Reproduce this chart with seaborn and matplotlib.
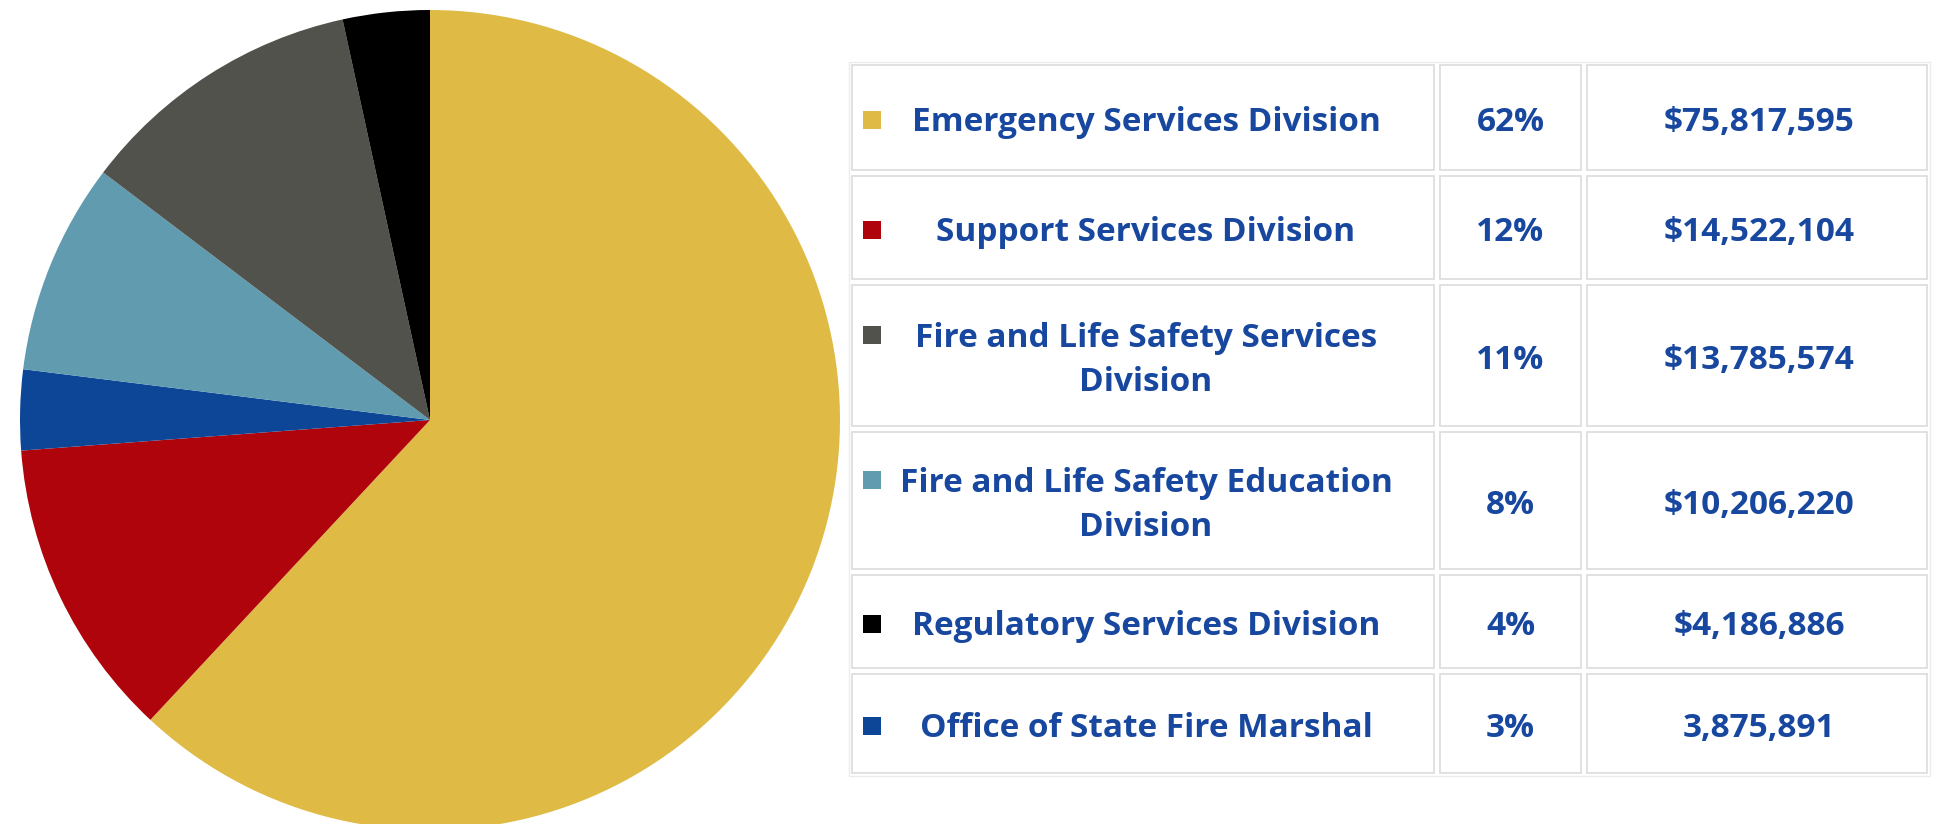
import matplotlib
matplotlib.use('Agg')
import matplotlib.pyplot as plt
import seaborn as sns
from matplotlib.patches import Rectangle

# pie order (clockwise from 12 o'clock)
divisions = ["Emergency Services Division", "Support Services Division",
             "Office of State Fire Marshal", "Fire and Life Safety Education Division",
             "Fire and Life Safety Services Division", "Regulatory Services Division"]
amounts = [75817595, 14522104, 3875891, 10206220, 13785574, 4186886]
colors = ["#DFBA45", "#AF040C", "#0D4696", "#619BB0", "#51524B", "#000000"]

# table order (top to bottom)
table_names = ["Emergency Services Division", "Support Services Division",
               "Fire and Life Safety Services\nDivision",
               "Fire and Life Safety Education\nDivision",
               "Regulatory Services Division", "Office of State Fire Marshal"]
table_keys = [0, 1, 4, 3, 5, 2]
pct_labels = ["62%", "12%", "11%", "8%", "4%", "3%"]
amount_labels = ["$75,817,595", "$14,522,104", "$13,785,574", "$10,206,220",
                 "$4,186,886", "3,875,891"]

sns.set_theme(style="white")
plt.rcParams['font.family'] = ['Open Sans', 'DejaVu Sans']

W, H = 1937, 824
fig = plt.figure(figsize=(W / 100, H / 100), dpi=100)

# pie
cx, cy, r = 430, 420, 410
ax = fig.add_axes([(cx - r) / W, (H - cy - r) / H, 2 * r / W, 2 * r / H])
ax.pie(amounts, colors=colors, startangle=90, counterclock=False,
       wedgeprops=dict(linewidth=0))
ax.set_xlim(-1, 1)
ax.set_ylim(-1, 1)
ax.set_aspect('equal')
ax.axis('off')

# table in pixel coordinates
tx = fig.add_axes([0, 0, 1, 1])
tx.set_xlim(0, W)
tx.set_ylim(H, 0)
tx.axis('off')

col_edges = [849, 1437, 1584, 1930]
row_edges = [62, 173, 282, 429, 572, 671, 776]
border = "#dcdcdc"
text_col = "#17479E"
gap = 3
fs = 24
dy = 5

tx.add_patch(Rectangle((col_edges[0], row_edges[0]), col_edges[-1] - col_edges[0],
                       row_edges[-1] - row_edges[0], fill=False, ec="#ececec", lw=1))
for i in range(len(row_edges) - 1):
    y0, y1 = row_edges[i], row_edges[i + 1]
    for j in range(len(col_edges) - 1):
        x0, x1 = col_edges[j], col_edges[j + 1]
        tx.add_patch(Rectangle((x0 + gap, y0 + gap), x1 - x0 - 2 * gap, y1 - y0 - 2 * gap,
                               fill=False, ec=border, lw=1.2))
    yc = (y0 + y1) / 2 + dy
    name = table_names[i]
    nlines = name.count("\n") + 1
    sq_y = yc - (23 if nlines == 2 else 0) - 3
    tx.add_patch(Rectangle((863, sq_y - 9), 18, 18, color=colors[table_keys[i]], lw=0))
    tx.text((col_edges[0] + col_edges[1]) / 2 + 3, yc, name, ha='center', va='center',
            fontsize=fs, fontweight='bold', color=text_col, linespacing=1.45)
    tx.text((col_edges[1] + col_edges[2]) / 2, yc, pct_labels[i], ha='center', va='center',
            fontsize=fs, fontweight='bold', color=text_col)
    tx.text((col_edges[2] + col_edges[3]) / 2 + 2, yc, amount_labels[i], ha='center',
            va='center', fontsize=fs, fontweight='bold', color=text_col)

fig.savefig("out.png", dpi=100, facecolor="white")
